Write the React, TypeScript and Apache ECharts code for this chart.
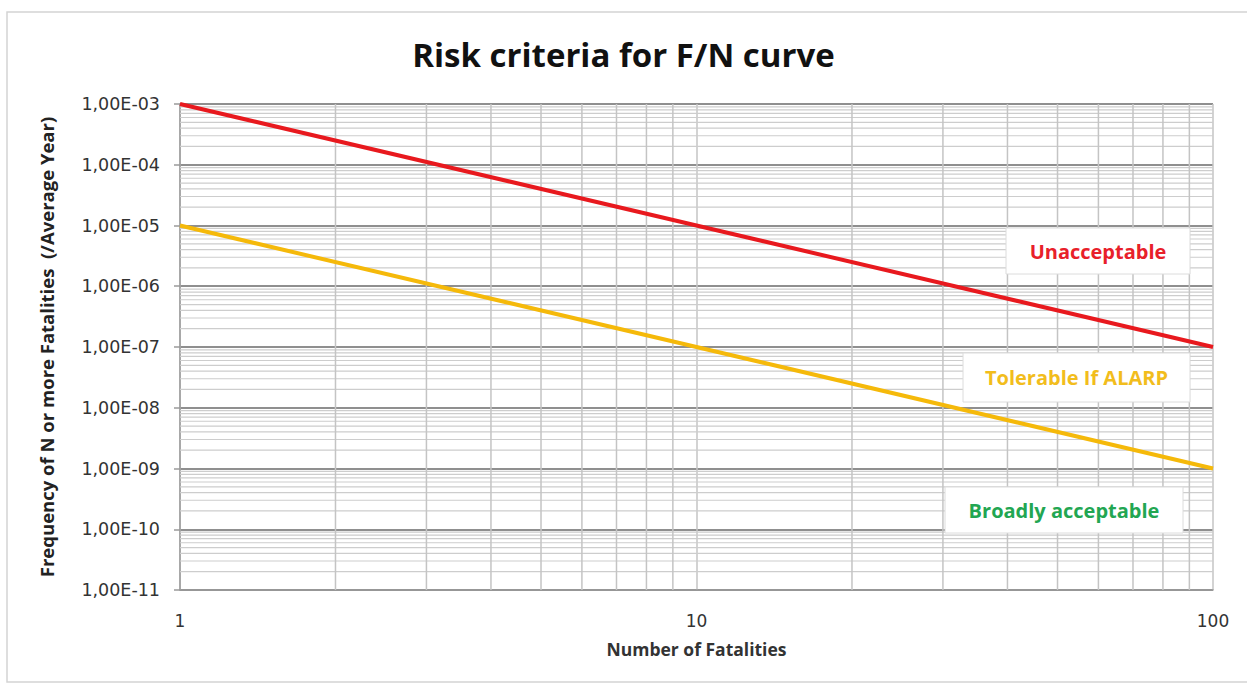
import React, { useEffect, useRef } from "react";
import * as echarts from "echarts";

const titleText = "Risk criteria for F/N curve";
const xAxisName = "Number of Fatalities";
const yAxisName = "Frequency of N or more Fatalities  (/Average Year)";

const fatalities = [1, 10, 100];
const unacceptableLine = [1e-3, 1e-5, 1e-7];
const alarpLine = [1e-5, 1e-7, 1e-9];

const xMin = 1;
const xMax = 100;
const yMin = 1e-11;
const yMax = 1e-3;

const xTickLabels: Record<string, string> = { "1": "1", "10": "10", "100": "100" };
const yTickLabels = [
  "1,00E-11", "1,00E-10", "1,00E-09", "1,00E-08", "1,00E-07",
  "1,00E-06", "1,00E-05", "1,00E-04", "1,00E-03",
];
const yDecades = [-11, -10, -9, -8, -7, -6, -5, -4];
const xDecades = [0, 1];
const minorMultipliers = [2, 3, 4, 5, 6, 7, 8, 9];

const zoneLabels = [
  { text: "Unacceptable", color: "#e8202a", x: 1006, y: 228, w: 184, h: 46 },
  { text: "Tolerable If ALARP", color: "#f2bd1c", x: 963, y: 353, w: 227, h: 49 },
  { text: "Broadly acceptable", color: "#22a652", x: 945, y: 487, w: 238, h: 46 },
];

export default function App() {
  const ref = useRef<HTMLDivElement>(null);
  useEffect(() => {
    if (!ref.current) return;
    const chart = echarts.init(ref.current, undefined, { renderer: "svg" });
    const minorY: number[][] = [];
    yDecades.forEach((d) => minorMultipliers.forEach((m) => minorY.push([xMin, m * Math.pow(10, d)])));
    const minorX: number[][] = [];
    xDecades.forEach((d) => minorMultipliers.forEach((m) => minorX.push([m * Math.pow(10, d), yMin])));

    const graphic: any[] = [
      {
        type: "rect",
        shape: { x: 7, y: 12, width: 1300, height: 670 },
        style: { fill: "none", stroke: "#d4d4d4", lineWidth: 1.5 },
        silent: true,
        z: -10,
      },
    ];
    zoneLabels.forEach((z) => {
      graphic.push({
        type: "rect",
        shape: { x: z.x, y: z.y, width: z.w, height: z.h },
        style: { fill: "#ffffff", stroke: "#dcdcdc", lineWidth: 1 },
        z: 100,
      });
      graphic.push({
        type: "text",
        x: z.x + z.w / 2,
        y: z.y + z.h / 2,
        style: {
          text: z.text,
          fill: z.color,
          font: "bold 20px 'Open Sans', sans-serif",
          align: "center",
          verticalAlign: "middle",
        },
        z: 101,
      });
    });

    chart.setOption({
      animation: false,
      backgroundColor: "#ffffff",
      title: {
        text: titleText,
        left: "center",
        top: 33,
        textStyle: { fontFamily: "'Open Sans', sans-serif", fontWeight: "bold", fontSize: 33, color: "#111" },
      },
      grid: { left: 180, right: 34, top: 104, bottom: 94 },
      xAxis: {
        type: "log",
        logBase: 10,
        min: xMin,
        max: xMax,
        name: xAxisName,
        nameLocation: "middle",
        nameGap: 50,
        nameTextStyle: { fontFamily: "'Open Sans', sans-serif", fontWeight: "bold", fontSize: 17.5, color: "#333" },
        axisLine: { show: true, lineStyle: { color: "#9a9a9a", width: 1.5 } },
        axisTick: { show: false },
        axisLabel: {
          margin: 22,
          fontFamily: "'DejaVu Sans', sans-serif",
          fontSize: 17,
          color: "#333",
          formatter: (v: number) => xTickLabels[String(Math.round(v))] ?? "",
        },
        splitLine: { show: true, lineStyle: { color: "#c4c4c4", width: 1.5 } },
      },
      yAxis: {
        type: "log",
        logBase: 10,
        min: yMin,
        max: yMax,
        name: yAxisName,
        nameLocation: "middle",
        nameGap: 124,
        nameRotate: 90,
        nameTextStyle: { fontFamily: "'Open Sans', sans-serif", fontWeight: "bold", fontSize: 18.5, color: "#222" },
        axisLine: { show: true, lineStyle: { color: "#9a9a9a", width: 1.5 } },
        axisTick: { show: true, length: 6, lineStyle: { color: "#9a9a9a", width: 1.5 } },
        axisLabel: {
          margin: 20,
          fontFamily: "'DejaVu Sans', sans-serif",
          fontSize: 17.5,
          color: "#333",
          formatter: (v: number) => yTickLabels[Math.round(Math.log10(v)) + 11] ?? "",
        },
        splitLine: { show: true, lineStyle: { color: "#8f8f8f", width: 2 } },
      },
      graphic,
      series: [
        {
          type: "custom",
          silent: true,
          z: 1,
          encode: { x: 0, y: 1 },
          data: minorY,
          renderItem: (params: any, api: any) => {
            const y = api.value(1);
            const p1 = api.coord([xMin, y]);
            const p2 = api.coord([xMax, y]);
            return {
              type: "line",
              shape: { x1: p1[0], y1: p1[1], x2: p2[0], y2: p2[1] },
              style: { stroke: "#cdcdcd", lineWidth: 1.2 },
            };
          },
        },
        {
          type: "custom",
          silent: true,
          z: 1,
          encode: { x: 0, y: 1 },
          data: minorX,
          renderItem: (params: any, api: any) => {
            const x = api.value(0);
            const p1 = api.coord([x, yMin]);
            const p2 = api.coord([x, yMax]);
            return {
              type: "line",
              shape: { x1: p1[0], y1: p1[1], x2: p2[0], y2: p2[1] },
              style: { stroke: "#c4c4c4", lineWidth: 1.5 },
            };
          },
        },
        {
          type: "line",
          name: "Unacceptable",
          data: fatalities.map((n, i) => [n, unacceptableLine[i]]),
          showSymbol: false,
          symbol: "none",
          z: 5,
          lineStyle: { color: "#e8191e", width: 4 },
        },
        {
          type: "line",
          name: "Tolerable",
          data: fatalities.map((n, i) => [n, alarpLine[i]]),
          showSymbol: false,
          symbol: "none",
          z: 5,
          lineStyle: { color: "#f5b90a", width: 4 },
        },
      ],
    });
    return () => chart.dispose();
  }, []);
  return <div ref={ref} style={{ position: "fixed", left: 0, top: 0, width: 1247, height: 684 }} />;
}
